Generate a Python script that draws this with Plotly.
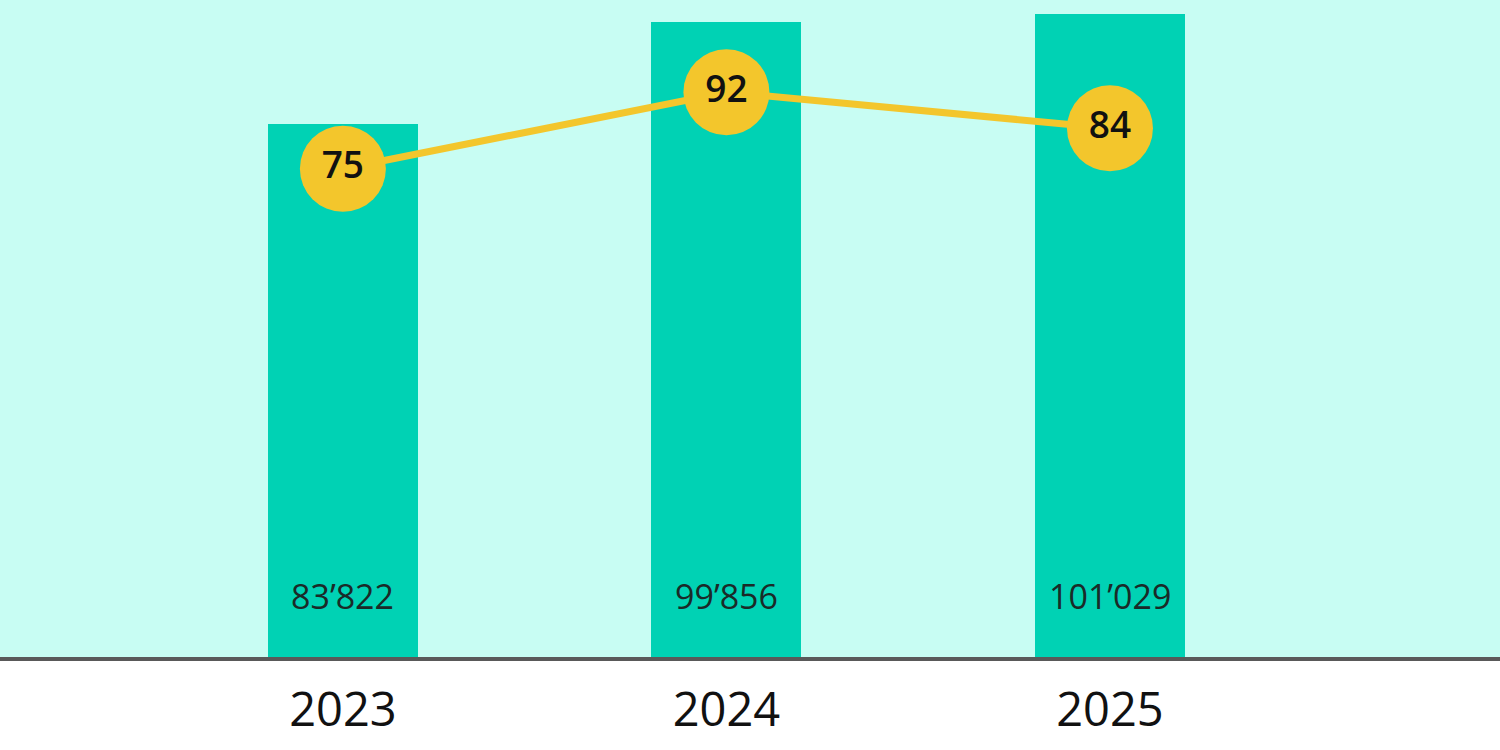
import plotly.graph_objects as go

# data
years = ["2023", "2024", "2025"]
volume = [83822, 99856, 101029]
score = [75, 92, 84]
volume_labels = ["83\u2019822", "99\u2019856", "101\u2019029"]

MINT = "#c8fdf3"
TEAL = "#00d2b4"
YELLOW = "#f3c62c"
FONT = "Open Sans"

fig = go.Figure()

fig.add_trace(go.Bar(
    x=years, y=volume, width=0.391,
    marker=dict(color=TEAL, line=dict(width=0)),
    hoverinfo="skip", showlegend=False,
))

fig.add_trace(go.Scatter(
    x=years, y=score, yaxis="y2",
    mode="lines+markers+text",
    line=dict(color=YELLOW, width=7),
    marker=dict(color=YELLOW, size=86, line=dict(width=0)),
    text=[str(s) for s in score],
    textposition="middle center",
    textfont=dict(family=FONT, size=37, color="#111111", weight=600),
    cliponaxis=False, hoverinfo="skip", showlegend=False,
))

# volume labels near the foot of each bar
# (annotations on a category axis take the category index)
for i, lab in enumerate(volume_labels):
    fig.add_annotation(
        x=i, xref="x", y=0, yref="paper", text=lab, showarrow=False,
        yanchor="bottom", yshift=36,
        font=dict(family=FONT, size=34, color="#1a2a28"),
    )

fig.update_layout(
    width=1500, height=750,
    margin=dict(l=0, r=0, t=0, b=93),
    paper_bgcolor="white", plot_bgcolor=MINT,
    bargap=0,
    xaxis=dict(
        type="category", range=[-0.894, 3.017],
        showline=True, linecolor="#595959", linewidth=4,
        showgrid=False, ticks="", zeroline=False,
        ticklabelstandoff=9,
        tickfont=dict(family=FONT, size=47, color="#111111"),
    ),
    yaxis=dict(range=[0, 103300], showticklabels=False, showgrid=False,
               zeroline=False, showline=False),
    yaxis2=dict(range=[-33.5, 112.5], overlaying="y", showticklabels=False,
                showgrid=False, zeroline=False, showline=False),
)

fig.write_html("out.html", config={"displayModeBar": False},
               post_script="document.body.style.margin='0';")
